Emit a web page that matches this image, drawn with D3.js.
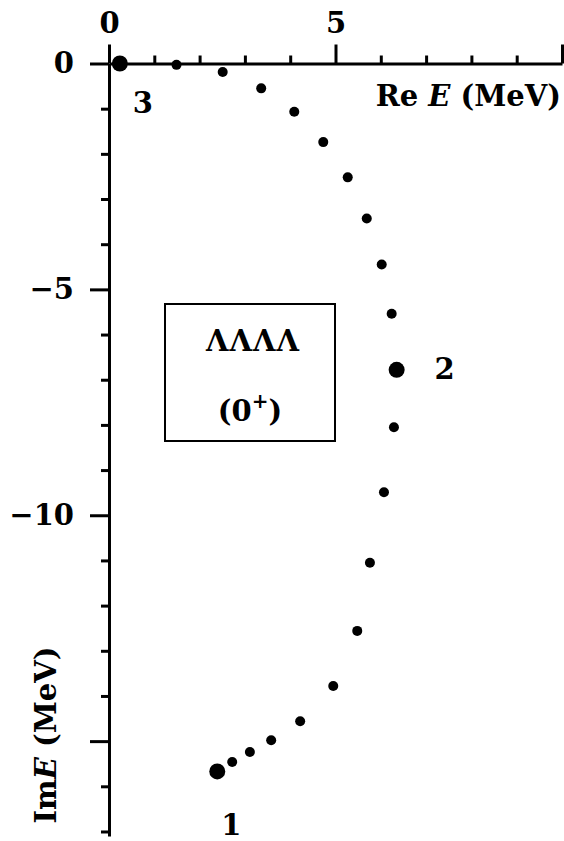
<!DOCTYPE html>
<html>
<head>
<meta charset="utf-8">
<script src="https://cdn.jsdelivr.net/npm/d3@7"></script>
<style>
  html, body { margin: 0; padding: 0; background: #fff; }
  svg { display: block; }
  text { font-family: "DejaVu Serif", "Liberation Serif", serif; fill: #000; }
</style>
</head>
<body>
<svg id="chart" width="564" height="841"></svg>
<script>
// Pole trajectory of the ΛΛΛΛ (0+) resonance in the complex energy plane
const reE = [0.24, 1.49, 2.51, 3.36, 4.09, 4.73, 5.27, 5.69, 6.02, 6.24, 6.35,
             6.29, 6.07, 5.76, 5.48, 4.95, 4.22, 3.58, 3.11, 2.72, 2.39];
const imE = [0.00, -0.03, -0.19, -0.55, -1.07, -1.74, -2.52, -3.43, -4.45, -5.54, -6.78,
             -8.05, -9.49, -11.05, -12.56, -13.78, -14.56, -14.98, -15.24, -15.46, -15.67];
// Highlighted poles and their numbers
const markedIndex = [20, 10, 0];
const markedLabels = ["1", "2", "3"];

const xMajorTicks = [0, 5, 10];
const xTickLabels = ["0", "5", ""];
const xMinorTicks = [1, 2, 3, 4, 6, 7, 8, 9];
const yMajorTicks = [0, -5, -10, -15];
const yTickLabels = ["0", "\u22125", "\u221210", ""];
const yMinorTicks = [-1, -2, -3, -4, -6, -7, -8, -9, -11, -12, -13, -14, -16, -17];

const svg = d3.select("#chart");
const x = d3.scaleLinear().domain([0, 10]).range([109, 562]);
const y = d3.scaleLinear().domain([0, -17.1]).range([63.5, 836]);

const axisStroke = 3;
const fontFamily = "DejaVu Serif, serif";
const fontSize = 29;

function styleAxis(g) {
  g.selectAll("path, line").attr("stroke", "#000").attr("stroke-width", axisStroke);
  g.select(".domain").attr("stroke-linecap", "butt");
}

// x axis: minor then major ticks, drawn upward
svg.append("g")
  .attr("transform", `translate(0,${y(0)})`)
  .call(d3.axisTop(x).tickValues(xMinorTicks).tickSize(8).tickSizeOuter(0).tickFormat(""))
  .call(styleAxis);
const gx = svg.append("g")
  .attr("transform", `translate(0,${y(0)})`)
  .call(d3.axisTop(x).tickValues(xMajorTicks).tickSize(19).tickSizeOuter(0)
    .tickPadding(12).tickFormat((d, i) => xTickLabels[i]))
  .call(styleAxis);
gx.select(".domain").remove();

// y axis: minor then major ticks, drawn leftward
svg.append("g")
  .attr("transform", `translate(${x(0)},0)`)
  .call(d3.axisLeft(y).tickValues(yMinorTicks).tickSize(8).tickSizeOuter(0).tickFormat(""))
  .call(styleAxis);
const gy = svg.append("g")
  .attr("transform", `translate(${x(0)},0)`)
  .call(d3.axisLeft(y).tickValues(yMajorTicks).tickSize(19).tickSizeOuter(0)
    .tickPadding(16).tickFormat((d, i) => yTickLabels[i]))
  .call(styleAxis);
gy.select(".domain").remove();

svg.selectAll(".tick text")
  .attr("font-family", fontFamily)
  .attr("font-size", fontSize)
  .attr("font-weight", "bold")
  .attr("fill", "#000");

// axis titles
const reLabel = svg.append("text")
  .attr("x", 561).attr("y", 106)
  .attr("text-anchor", "end")
  .attr("font-size", fontSize).attr("font-weight", "bold");
reLabel.append("tspan").text("Re ");
reLabel.append("tspan").attr("font-style", "italic").text("E");
reLabel.append("tspan").text(" (MeV)");

const imLabel = svg.append("text")
  .attr("transform", "translate(56,735) rotate(-90)")
  .attr("text-anchor", "middle")
  .attr("font-size", fontSize).attr("font-weight", "bold");
imLabel.append("tspan").text("Im");
imLabel.append("tspan").attr("font-style", "italic").text("E");
imLabel.append("tspan").text(" (MeV)");

// trajectory points
const pts = reE.map((r, i) => ({ re: r, im: imE[i], big: markedIndex.includes(i) }));
svg.append("g").selectAll("circle")
  .data(pts)
  .join("circle")
  .attr("cx", d => x(d.re))
  .attr("cy", d => y(d.im))
  .attr("r", d => d.big ? 8 : 5)
  .attr("fill", "#000");

// pole numbers
const labelOffsets = [[14, 64], [48, 9], [23, 49]];
svg.append("g").selectAll("text")
  .data(markedIndex)
  .join("text")
  .attr("x", (d, i) => x(reE[d]) + labelOffsets[i][0])
  .attr("y", (d, i) => y(imE[d]) + labelOffsets[i][1])
  .attr("text-anchor", "middle")
  .attr("font-size", fontSize).attr("font-weight", "bold")
  .text((d, i) => markedLabels[i]);

// system label box
svg.append("rect")
  .attr("x", 165).attr("y", 304).attr("width", 170).attr("height", 137)
  .attr("fill", "none").attr("stroke", "#000").attr("stroke-width", 2);
svg.append("text")
  .attr("x", 253).attr("y", 351)
  .attr("text-anchor", "middle")
  .attr("font-size", fontSize).attr("font-weight", "bold")
  .attr("letter-spacing", 1)
  .text("\u039B\u039B\u039B\u039B");
const jp = svg.append("text")
  .attr("x", 250).attr("y", 421)
  .attr("text-anchor", "middle")
  .attr("font-size", fontSize).attr("font-weight", "bold");
jp.append("tspan").text("(0");
jp.append("tspan").attr("font-size", 20).attr("dy", -13).text("+");
jp.append("tspan").attr("dy", 13).text(")");
</script>
</body>
</html>
